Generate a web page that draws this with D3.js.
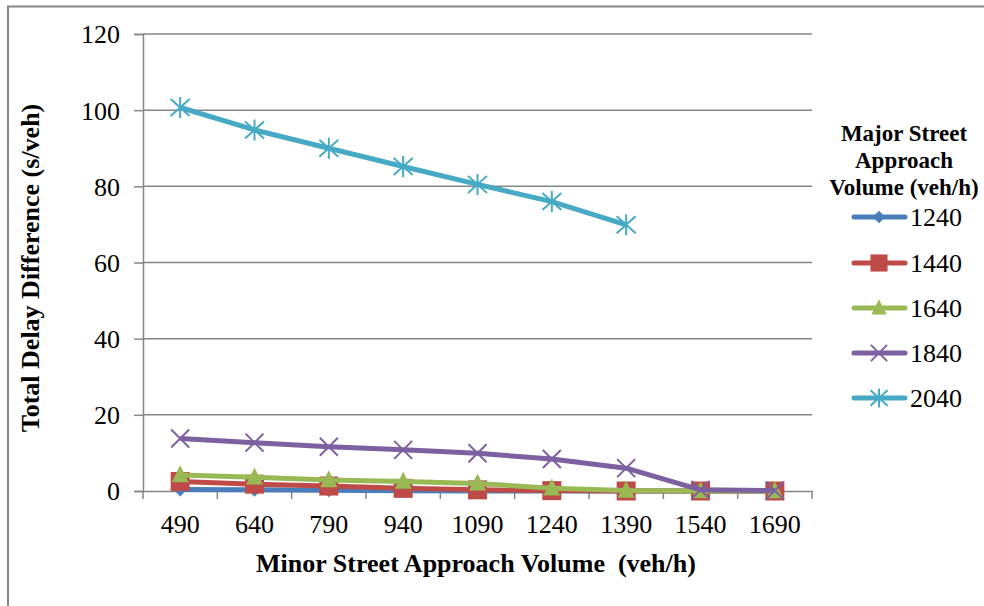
<!DOCTYPE html>
<html><head><meta charset="utf-8">
<script src="https://cdn.jsdelivr.net/npm/d3@7"></script>
<style>body{margin:0;background:#fff}svg{display:block}text{font-family:"Liberation Serif","Times New Roman",serif}</style>
</head><body><svg id="c" width="984" height="606"></svg>
<script>
const categories = ["490","640","790","940","1090","1240","1390","1540","1690"];
const seriesNames = ["1240","1440","1640","1840","2040"];
const s1240 = [0.4,0.3,0.2,0.05,0,0,0,0,0];
const s1440 = [2.5,1.8,1.3,0.7,0.3,0.1,0,0,0];
const s1640 = [4.2,3.6,2.9,2.5,2.0,0.7,0.1,0,0];
const s1840 = [13.8,12.7,11.6,10.8,9.9,8.4,6.0,0.3,0.1];
const s2040 = [100.7,94.8,90.0,85.2,80.5,76.0,69.9,null,null];
const yTicks = [0,20,40,60,80,100,120];
const colors = ["#4a7ebb","#be4b48","#98b954","#7d60a0","#46aac5"];
const markers = ["diamond","square","triangle","x","star"];
const allSeries = [s1240,s1440,s1640,s1840,s2040];

const svg = d3.select("#c");
svg.append("path").attr("d","M8,620V6.5H990").attr("fill","none").attr("stroke","#868686").attr("stroke-width",2);

const L=143,R=812,T=34,B=491;
const x = d3.scaleBand().domain(categories).range([L,R]);
const y = d3.scaleLinear().domain([0,120]).range([B,T]);

// gridlines
svg.append("g").selectAll("line").data(yTicks.filter(d=>d>0)).join("line")
 .attr("x1",L).attr("x2",R).attr("y1",d=>y(d)).attr("y2",d=>y(d))
 .attr("stroke","#868686").attr("stroke-width",1.5);

// y axis
const ya = svg.append("g").attr("transform",`translate(${L},0)`).call(d3.axisLeft(y).tickValues(yTicks).tickSize(9).tickPadding(14));
ya.select(".domain").attr("stroke","#868686").attr("stroke-width",1.5);
ya.selectAll(".tick line").attr("stroke","#868686").attr("stroke-width",1.5);
ya.selectAll("text").attr("font-size",26).attr("fill","#000").attr("dy","0.34em").style("font-family","Liberation Serif");

// x axis
const xa = svg.append("g").attr("transform",`translate(0,${B})`).call(d3.axisBottom(x).tickSize(0).tickPadding(24));
xa.select(".domain").attr("stroke","#868686").attr("stroke-width",1.5);
xa.selectAll("text").attr("font-size",26).attr("fill","#000").style("font-family","Liberation Serif");
const bounds = categories.map(c=>x(c)).concat([R]);
xa.selectAll(".bt").data(bounds).join("line").attr("x1",d=>d).attr("x2",d=>d).attr("y1",0).attr("y2",8)
 .attr("stroke","#868686").attr("stroke-width",1.5);

function drawMarker(g, type, color, cx, cy, s){
  if(type==="diamond"){
    g.append("path").attr("d",`M${cx},${cy-s}L${cx+s},${cy}L${cx},${cy+s}L${cx-s},${cy}Z`).attr("fill",color);
  } else if(type==="square"){
    g.append("rect").attr("x",cx-s).attr("y",cy-s).attr("width",2*s).attr("height",2*s).attr("fill",color);
  } else if(type==="triangle"){
    g.append("path").attr("d",`M${cx},${cy-s*1.15}L${cx+s},${cy+s*0.85}L${cx-s},${cy+s*0.85}Z`).attr("fill",color);
  } else if(type==="x"){
    g.append("path").attr("d",`M${cx-s},${cy-s}L${cx+s},${cy+s}M${cx-s},${cy+s}L${cx+s},${cy-s}`).attr("stroke",color).attr("stroke-width",2).attr("fill","none");
  } else {
    g.append("path").attr("d",`M${cx-s},${cy-s*0.9}L${cx+s},${cy+s*0.9}M${cx-s},${cy+s*0.9}L${cx+s},${cy-s*0.9}M${cx},${cy-s*1.1}L${cx},${cy+s*1.1}`).attr("stroke",color).attr("stroke-width",2).attr("fill","none");
  }
}
const msize = [7,9.5,8.5,9,9.5];

const line = d3.line().defined(d=>d.v!=null).x(d=>x(d.c)+x.bandwidth()/2).y(d=>y(d.v));
allSeries.forEach((s,i)=>{
  const data = categories.map((c,j)=>({c, v:s[j]}));
  const g = svg.append("g");
  g.append("path").datum(data).attr("d",line).attr("fill","none").attr("stroke",colors[i]).attr("stroke-width",5).attr("stroke-linejoin","round");
  data.filter(d=>d.v!=null).forEach(d=>drawMarker(g,markers[i],colors[i],x(d.c)+x.bandwidth()/2,y(d.v),msize[i]));
});

// axis titles
svg.append("text").attr("x",476).attr("y",572).attr("text-anchor","middle").attr("font-size",26).attr("font-weight","bold").attr("xml:space","preserve").text("Minor Street Approach Volume  (veh/h)");
svg.append("text").attr("transform","translate(39,268) rotate(-90)").attr("text-anchor","middle").attr("font-size",26).attr("font-weight","bold").text("Total Delay Difference (s/veh)");

// legend
const lt = ["Major Street","Approach","Volume (veh/h)"];
lt.forEach((t,i)=>svg.append("text").attr("x",904).attr("y",141+i*27).attr("text-anchor","middle").attr("font-size",23).attr("font-weight","bold").text(t));
const ly = [217,263,308,353,398];
seriesNames.forEach((n,i)=>{
  const g = svg.append("g");
  g.append("line").attr("x1",854).attr("x2",905).attr("y1",ly[i]).attr("y2",ly[i]).attr("stroke",colors[i]).attr("stroke-width",5).attr("stroke-linecap","round");
  drawMarker(g,markers[i],colors[i],879,ly[i],msize[i]*0.9);
  g.append("text").attr("x",910).attr("y",ly[i]+9).attr("font-size",26).text(n);
});
</script></body></html>
